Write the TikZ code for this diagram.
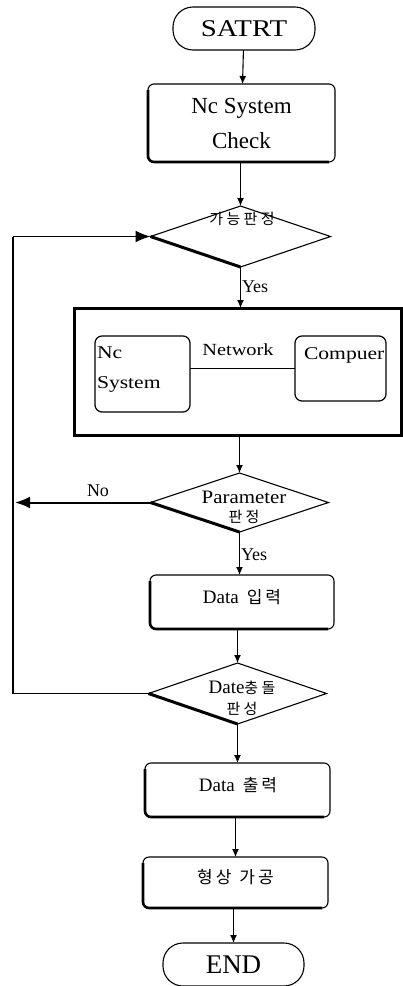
\documentclass[tikz,border=0pt]{standalone}
\usepackage{fontspec}
\setmainfont{Liberation Serif}
\newfontfamily\wide{Liberation Serif}[FakeStretch=1.2]
\newfontfamily\widish{Liberation Serif}[FakeStretch=1.1]
\newfontfamily\krd{Noto Sans CJK KR}[LetterSpace=22]
\newfontfamily\krb{Noto Sans CJK KR}[LetterSpace=18]
\usetikzlibrary{shapes.geometric,arrows.meta}

\begin{document}
\begin{tikzpicture}[x=1pt,y=-1pt,line width=1.1pt,
  every node/.style={inner sep=0pt,outer sep=0pt},
  term/.style={draw,rounded corners=20pt},
  procbox/.style={draw,rounded corners=6pt},
  decision/.style={draw,diamond,shape aspect=3},
  inbox/.style={draw,rounded corners=7pt,line width=1.2pt},
  shadowline/.style={line width=2.6pt,rounded corners=6pt},
  thickedge/.style={line width=3pt},
  arr/.style={-{Latex[length=8pt,width=7pt]}},
  bigarr/.style={-{Latex[length=15pt,width=12pt]},line width=2pt},
  lbl/.style={font=\fontsize{18}{20}\selectfont},
  dtxt/.style={font=\krd\fontsize{15}{17}\selectfont},
  btxt/.style={font=\fontsize{19}{21}\selectfont}
]
\useasboundingbox (0,0) rectangle (403,986);

% start / end terminals
\node[term,minimum width=142pt,minimum height=43pt,font=\wide\fontsize{24}{26}\selectfont] (start) at (244,28.5) {SATRT};
\node[term,minimum width=141pt,minimum height=43pt,font=\fontsize{27}{29}\selectfont] (stop) at (233.5,964.5) {END};

% system check
\node[procbox,minimum width=187pt,minimum height=78pt,align=center,
      font=\fontsize{23}{35}\selectfont] (chk) at (241.5,123) {Nc System\\Check};
\draw[shadowline] ([yshift=-6pt]chk.north west) -- (chk.south west) -- ([xshift=-6pt]chk.south east);

% first decision
\node[decision,minimum width=180pt,minimum height=61pt] (d1) at (240.5,236.5) {};
\draw[thickedge] (d1.west) -- (d1.south);
\node[dtxt] (d1t) at (242,219) {가능판정};
\node[lbl,anchor=west] (yes1) at (242,287) {Yes};

% network block
\node[draw,line width=3pt,minimum width=327pt,minimum height=127pt] (net) at (237.5,371.5) {};
\node[inbox,minimum width=95pt,minimum height=76pt] (ncs) at (142.5,374) {};
\node[anchor=west,align=left,font=\wide\fontsize{18}{30}\selectfont] (ncst) at (97,370) {Nc\\System};
\node[inbox,minimum width=91pt,minimum height=65pt] (comp) at (340.5,368.5) {};
\node[anchor=west,font=\wide\fontsize{18}{20}\selectfont] (compt) at (304,355) {Compuer};
\draw[line width=1.8pt] (ncs.east |- comp.west) -- (comp.west);
\node[font=\wide\fontsize{17}{19}\selectfont] (nett) at (238,350) {Network};

% parameter decision
\node[decision,minimum width=178pt,minimum height=59pt] (d2) at (239.5,502.5) {};
\draw[thickedge] (d2.west) -- (d2.south);
\node[align=center,font=\widish\fontsize{19}{19}\selectfont] (d2t) at (244,507) {Parameter\\{\krd\fontsize{15}{17}\selectfont 판정}};
\coordinate (noend) at (15,502.5);
\node[lbl] (no) at (98,491) {No};
\node[lbl,anchor=west] (yes2) at (241,555) {Yes};

% data input
\node[procbox,minimum width=184pt,minimum height=54pt] (din) at (242,602) {};
\draw[shadowline] ([yshift=-6pt]din.north west) -- (din.south west) -- ([xshift=-6pt]din.south east);
\node[btxt] (dint) at (242,597) {Data\hspace{8pt}{\krb\fontsize{17}{19}\selectfont 입력}};

% collision decision
\node[decision,minimum width=178pt,minimum height=61pt] (d3) at (237.5,693.5) {};
\draw[thickedge] (d3.west) -- (d3.south);
\node[align=center,font=\fontsize{19}{21}\selectfont] (d3t) at (242,698) {Date{\krd\fontsize{15}{17}\selectfont 충돌}\\{\krd\fontsize{15}{17}\selectfont 판성}};

% data output
\node[procbox,minimum width=185pt,minimum height=54pt] (dout) at (237.5,790) {};
\draw[shadowline] ([yshift=-6pt]dout.north west) -- (dout.south west) -- ([xshift=-6pt]dout.south east);
\node[btxt] (doutt) at (238,785) {Data\hspace{8pt}{\krb\fontsize{17}{19}\selectfont 출력}};

% machining
\node[procbox,minimum width=185pt,minimum height=51pt] (mach) at (235.5,882.5) {};
\draw[shadowline] ([yshift=-6pt]mach.north west) -- (mach.south west) -- ([xshift=-6pt]mach.south east);
\node[font=\krb\fontsize{17}{19}\selectfont] (macht) at (235.5,877) {형상\hspace{8pt}가공};

% connectors
\draw[arr] (start) -- (chk);
\draw[arr] (chk.south -| d1.north) -- (d1);
\draw[arr] (d1) -- (d1.south |- net.north);
\draw[arr] (net.south -| d2.north) -- (d2);
\draw[arr] (d2) -- (d2.south |- din.north);
\draw[arr] (din.south -| d3.north) -- (d3);
\draw[arr] (d3) -- (dout);
\draw[arr] (dout.south -| mach.north) -- (mach);
\draw[arr] (mach.south -| stop.north) -- (stop);
\draw[bigarr] (d2.west) -- (noend);
\coordinate (fbl) at (13,693.5);
\coordinate (fbt) at (13,236.5);
\draw[line width=1.6pt] (d3.west) -- (fbl) -- (fbt);
\draw[bigarr,line width=1.6pt] (fbt) -- (d1.west);
\end{tikzpicture}
\end{document}
